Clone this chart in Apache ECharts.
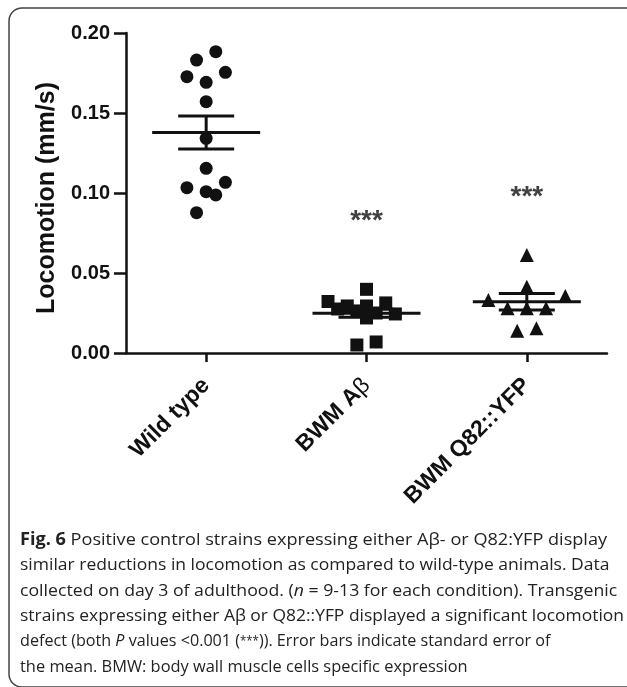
<!DOCTYPE html>
<html><head><meta charset="utf-8">
<script src="https://cdn.jsdelivr.net/npm/echarts@6/dist/echarts.min.js"></script>
<style>html,body{margin:0;padding:0;background:#fff}#c{width:627px;height:687px}</style>
</head><body><div id="c"></div>
<script>
// ---- data ----
const categories = ['Wild type', 'BWM Aβ', 'BWM Q82::YFP'];
const yTicks = [0.00, 0.05, 0.10, 0.15, 0.20];

const wildTypeValues  = [0.1883, 0.1831, 0.1727, 0.1754, 0.1692, 0.1571, 0.1342, 0.1154, 0.1033, 0.1067, 0.1008, 0.0988, 0.0877];
const wildTypeOffsets = [0.06, -0.06, -0.12, 0.12, 0, 0, 0, 0, -0.12, 0.12, 0, 0.06, -0.06];

const abetaValues  = [0.0398, 0.0322, 0.0294, 0.0294, 0.0313, 0.0263, 0.0250, 0.0244, 0.0275, 0.0050, 0.0069, 0.0219];
const abetaOffsets = [0, -0.24, -0.12, 0, 0.12, -0.06, 0.06, 0.18, -0.18, -0.06, 0.06, 0];

const q82Values  = [0.0613, 0.0414, 0.0331, 0.0356, 0.0279, 0.0279, 0.0279, 0.0139, 0.0154];
const q82Offsets = [0, 0, -0.24, 0.24, -0.12, 0, 0.12, -0.06, 0.06];

const means = [0.1378, 0.0248, 0.0320];
const sems  = [0.0103, 0.0025, 0.0052];

const sigLabels  = ['***', '***'];
const sigGroups  = [1, 2];
const sigHeights = [0.0875, 0.1025];

const captionLines = [
  '{b|Fig. 6} Positive control strains expressing either Aβ- or Q82:YFP display',
  'similar reductions in locomotion as compared to wild-type animals. Data',
  'collected on day 3 of adulthood. ({i|n} = 9-13 for each condition). Transgenic',
  'strains expressing either Aβ or Q82::YFP displayed a significant locomotion',
  'defect (both {i|P} values <0.001 ({s|***})). Error bars indicate standard error of',
  'the mean. BMW: body wall muscle cells specific expression'
];
// ---------------------------------------

const INK = '#111';
const FONT = '"Liberation Sans", Arial, sans-serif';
const CAPFONT = '"Open Sans", sans-serif';
const capSize = 17;
// horizontal fit of each caption line to the reference line width
const capScaleX = [1.065, 1.03, 1.04, 1.025, 0.95, 0.965];

function pts(idx, vals, offs) { return vals.map((v, i) => [idx + offs[i], v]); }

const chart = echarts.init(document.getElementById('c'), null, {renderer: 'canvas'});

const capGraphics = captionLines.map((t, i) => ({
  type: 'text',
  x: 20, y: 540 + i * 25.4,
  scaleX: capScaleX[i],
  style: {
    text: t,
    fill: '#222',
    fontSize: capSize,
    fontFamily: CAPFONT,
    verticalAlign: 'middle',
    align: 'left',
    rich: {
      b: {fontWeight: 'bold', fontSize: capSize, fontFamily: CAPFONT, fill: '#222'},
      i: {fontStyle: 'italic', fontSize: capSize, fontFamily: CAPFONT, fill: '#222'},
      s: {fontSize: 12, fontFamily: CAPFONT, fill: '#222', verticalAlign: 'middle'}
    }
  }
}));

const axisLine = {show: true, onZero: false, lineStyle: {color: INK, width: 2.5}};

chart.setOption({
  animation: false,
  backgroundColor: '#fff',
  grid: {left: 126, right: 20, top: 33, bottom: 334, containLabel: false},
  xAxis: [
    {
      type: 'category', data: categories, boundaryGap: true,
      axisLine: axisLine,
      axisTick: {show: true, alignWithLabel: true, length: 9, lineStyle: {color: INK, width: 2.5}},
      axisLabel: {
        rotate: 45, interval: 0, margin: 29, color: INK,
        fontSize: 23, fontWeight: 'bold', fontFamily: FONT,
        formatter: v => v === 'BWM Aβ' ? '{a|BWM A}{g|β}' : v,
        rich: {
          a: {fontSize: 23, fontWeight: 'bold', fontFamily: FONT, color: INK},
          g: {fontSize: 23, fontWeight: 'normal', fontFamily: FONT, color: INK}
        }
      },
      splitLine: {show: false}
    },
    {type: 'value', min: -0.5, max: 2.5, show: false}
  ],
  yAxis: {
    type: 'value', min: yTicks[0], max: yTicks[yTicks.length - 1], interval: 0.05,
    axisLine: axisLine,
    axisTick: {show: true, length: 12, lineStyle: {color: INK, width: 2.5}},
    axisLabel: {
      margin: 16, color: INK, fontSize: 20, fontWeight: 'bold', fontFamily: FONT,
      formatter: v => v.toFixed(2)
    },
    splitLine: {show: false},
    name: 'Locomotion (mm/s)', nameLocation: 'middle', nameGap: 66,
    nameTextStyle: {fontSize: 25, fontWeight: 'bold', fontFamily: FONT, color: INK,
                    padding: [0, 10, 0, 0]}
  },
  graphic: [
    {type: 'rect', z: -10, shape: {x: 9, y: 8, width: 640, height: 679, r: 13},
     style: {fill: 'none', stroke: '#444', lineWidth: 1.5}},
    ...capGraphics
  ],
  series: [
    {type: 'scatter', xAxisIndex: 1, symbol: 'circle', symbolSize: 13,
     itemStyle: {color: INK, opacity: 1}, data: pts(0, wildTypeValues, wildTypeOffsets), silent: true},
    {type: 'scatter', xAxisIndex: 1, symbol: 'rect', symbolSize: 13,
     itemStyle: {color: INK, opacity: 1}, data: pts(1, abetaValues, abetaOffsets), silent: true},
    {type: 'scatter', xAxisIndex: 1, symbol: 'triangle', symbolSize: 14,
     itemStyle: {color: INK, opacity: 1}, data: pts(2, q82Values, q82Offsets), silent: true},
    {
      type: 'custom', xAxisIndex: 1, silent: true,
      data: means.map((m, i) => [i, m, sems[i]]),
      renderItem: function (params, api) {
        const x = api.value(0), m = api.value(1), s = api.value(2);
        const c = api.coord([x, m]);
        const t = api.coord([x, m + s]);
        const b = api.coord([x, m - s]);
        const st = {stroke: INK, lineWidth: 3};
        return {type: 'group', children: [
          {type: 'line', shape: {x1: c[0] - 54, y1: c[1], x2: c[0] + 54, y2: c[1]}, style: st},
          {type: 'line', shape: {x1: t[0], y1: t[1], x2: b[0], y2: b[1]}, style: st},
          {type: 'line', shape: {x1: t[0] - 28, y1: t[1], x2: t[0] + 28, y2: t[1]}, style: st},
          {type: 'line', shape: {x1: b[0] - 28, y1: b[1], x2: b[0] + 28, y2: b[1]}, style: st}
        ]};
      }
    },
    {
      type: 'scatter', xAxisIndex: 1, symbolSize: 1, silent: true,
      itemStyle: {color: 'rgba(0,0,0,0)'},
      data: sigGroups.map((g, i) => ({value: [g, sigHeights[i]], name: sigLabels[i]})),
      label: {show: true, position: 'inside', formatter: p => p.name, color: INK,
              fontSize: 28, fontWeight: 'bold', fontFamily: FONT, offset: [0, 8]}
    }
  ]
});
</script></body></html>
